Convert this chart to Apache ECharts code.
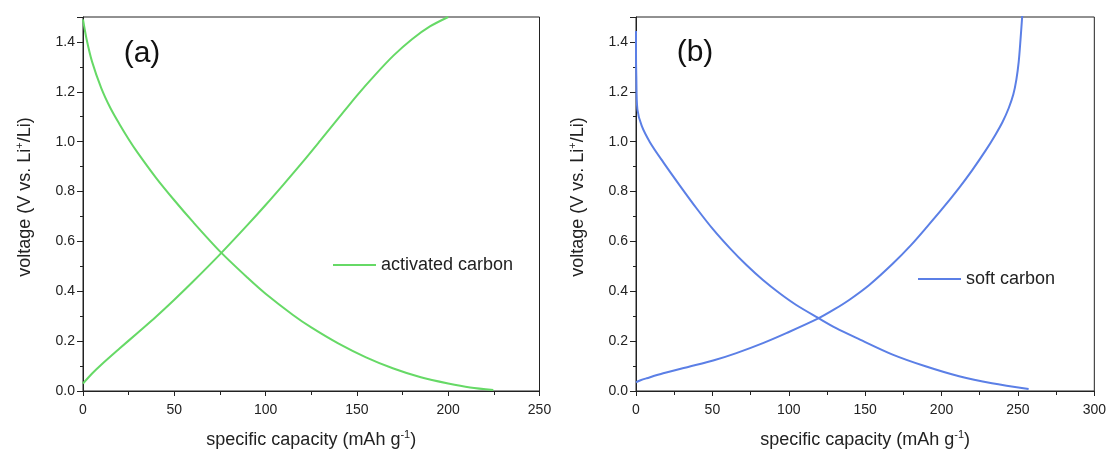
<!DOCTYPE html>
<html>
<head>
<meta charset="utf-8">
<script src="https://cdn.jsdelivr.net/npm/echarts@6/dist/echarts.min.js"></script>
<style>
  html, body { margin: 0; padding: 0; background: #fff; }
  #chart { width: 1109px; height: 454px; }
</style>
</head>
<body>
<div id="chart"></div>
<script>
// (a) activated carbon
let acDisCap = [0, 2, 5, 10, 15, 20, 25, 30, 40, 50, 60, 75, 90, 100, 115, 125, 140, 155, 170, 185, 200, 212, 224.7];
let acDisV = [1.49, 1.41, 1.32, 1.215, 1.135, 1.07, 1.01, 0.955, 0.855, 0.765, 0.68, 0.56, 0.455, 0.39, 0.305, 0.255, 0.19, 0.135, 0.09, 0.055, 0.03, 0.014, 0.004];
let acChgCap = [0, 5, 10, 20, 30, 40, 50, 60, 75, 90, 100, 110, 120, 130, 140, 150, 160, 170, 180, 190, 200];
let acChgV = [0.03, 0.07, 0.105, 0.17, 0.234, 0.298, 0.366, 0.437, 0.548, 0.665, 0.746, 0.83, 0.916, 1.005, 1.095, 1.185, 1.268, 1.345, 1.41, 1.462, 1.5];

// (b) soft carbon
let scDisCap = [0, 0, 0.2, 0.9, 3.7, 9.1, 17.8, 28.7, 39.6, 50.5, 61.4, 72.3, 83.1, 94, 104.9, 119, 131, 146, 168, 190, 211.5, 233, 257];
let scDisV = [1.444, 1.35, 1.264, 1.13, 1.064, 0.998, 0.918, 0.824, 0.733, 0.648, 0.573, 0.505, 0.445, 0.392, 0.345, 0.294, 0.252, 0.208, 0.146, 0.098, 0.059, 0.031, 0.008];
let scChgCap = [0, 3, 7, 17.8, 35.2, 50.5, 65.7, 83.1, 98.4, 119, 130, 140, 152.7, 168, 180, 190, 200, 211.5, 220, 228.9, 235, 240, 244, 247, 249, 250.5, 251.7, 252.8];
let scChgV = [0.035, 0.043, 0.051, 0.071, 0.098, 0.122, 0.152, 0.192, 0.232, 0.29, 0.328, 0.367, 0.425, 0.51, 0.585, 0.655, 0.727, 0.815, 0.885, 0.965, 1.025, 1.08, 1.135, 1.19, 1.25, 1.32, 1.41, 1.504];

let yTicks = [0, 0.2, 0.4, 0.6, 0.8, 1.0, 1.2, 1.4];

const FONT = "'Liberation Sans', Arial, sans-serif";
const INK = "#222";
const GREEN = "#66d966";
const BLUE = "#5b7fe6";

function pairs(xs, ys) {
  return xs.map((x, i) => [x, ys[i]]);
}

function xAxisFor(idx, max) {
  return {
    type: "value",
    gridIndex: idx,
    min: 0,
    max: max,
    interval: 50,
    name: "specific capacity (mAh g{sup|-1})",
    nameLocation: "middle",
    nameGap: 38,
    nameTextStyle: {
      fontFamily: FONT, fontSize: 18, color: INK,
      rich: { sup: { fontFamily: FONT, fontSize: 11, color: INK, verticalAlign: "top", lineHeight: 22 } }
    },
    axisLine: { lineStyle: { color: INK, width: 1 } },
    axisTick: { inside: false, length: 5, lineStyle: { color: INK } },
    minorTick: { show: true, splitNumber: 2, length: 4, lineStyle: { color: INK } },
    axisLabel: { fontFamily: FONT, fontSize: 14, color: INK, margin: 12 },
    splitLine: { show: false }
  };
}

function yAxisFor(idx) {
  return {
    type: "value",
    gridIndex: idx,
    min: 0,
    max: 1.5,
    interval: 0.2,
    axisLine: { lineStyle: { color: INK, width: 1 } },
    axisTick: { inside: false, length: 6, lineStyle: { color: INK } },
    minorTick: { show: true, splitNumber: 2, length: 3, lineStyle: { color: INK } },
    axisLabel: {
      fontFamily: FONT, fontSize: 14, color: INK, margin: 8,
      formatter: v => (yTicks.some(t => Math.abs(t - v) < 1e-6) ? v.toFixed(1) : "")
    },
    splitLine: { show: false }
  };
}

function curve(name, idx, data, color) {
  return {
    name: name,
    type: "line",
    xAxisIndex: idx,
    yAxisIndex: idx,
    data: data,
    showSymbol: false,
    smooth: 0.3,
    lineStyle: { color: color, width: 2 },
    itemStyle: { color: color },
    animation: false
  };
}

function yName(x, y) {
  return {
    type: "text",
    x: x,
    y: y,
    rotation: Math.PI / 2,
    style: {
      text: "voltage (V vs. Li{sup|+}/Li)",
      font: "18px " + FONT,
      fill: INK,
      align: "center",
      verticalAlign: "middle",
      rich: { sup: { fontFamily: FONT, fontSize: 11, fill: INK, verticalAlign: "top", lineHeight: 22 } }
    }
  };
}

function panelLabel(text, x, y) {
  return {
    type: "text",
    x: x,
    y: y,
    style: { text: text, font: "30px " + FONT, fill: "#111", align: "center", verticalAlign: "middle" }
  };
}

let chart = echarts.init(document.getElementById("chart"));
chart.setOption({
  backgroundColor: "#fff",
  animation: false,
  grid: [
    { left: 83, top: 17, width: 456.5, height: 375.7, show: true, borderColor: INK, borderWidth: 1 },
    { left: 636, top: 17, width: 459.6, height: 375.7, show: true, borderColor: INK, borderWidth: 1 }
  ],
  xAxis: [xAxisFor(0, 250), xAxisFor(1, 300)],
  yAxis: [yAxisFor(0), yAxisFor(1)],
  legend: [
    {
      data: [{ name: "activated carbon", icon: "rect" }],
      left: 333, top: 256, padding: 0,
      itemWidth: 43, itemHeight: 2,
      textStyle: { fontFamily: FONT, fontSize: 18, color: INK }
    },
    {
      data: [{ name: "soft carbon", icon: "rect" }],
      left: 918, top: 270, padding: 0,
      itemWidth: 43, itemHeight: 2,
      textStyle: { fontFamily: FONT, fontSize: 18, color: INK }
    }
  ],
  graphic: [
    yName(25.5, 197),
    yName(578, 197),
    panelLabel("(a)", 142, 54),
    panelLabel("(b)", 695, 53)
  ],
  series: [
    curve("activated carbon", 0, pairs(acDisCap, acDisV), GREEN),
    curve("activated carbon", 0, pairs(acChgCap, acChgV), GREEN),
    curve("soft carbon", 1, pairs(scDisCap, scDisV), BLUE),
    curve("soft carbon", 1, pairs(scChgCap, scChgV), BLUE)
  ]
});
</script>
</body>
</html>
